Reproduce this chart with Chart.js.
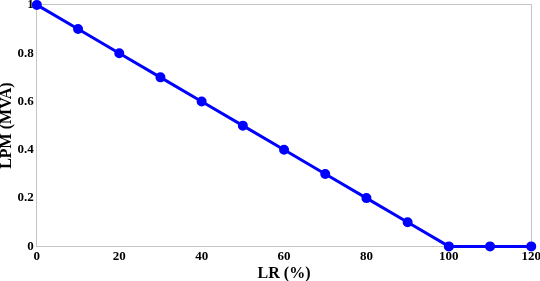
<!DOCTYPE html>
<html><head><meta charset="utf-8">
<script src="https://cdn.jsdelivr.net/npm/chart.js@4"></script>
<style>html,body{margin:0;padding:0;background:#fff;overflow:hidden}#c{display:block}</style>
</head><body>
<div style="width:545px;height:283px;margin-top:-2px"><canvas id="c"></canvas></div>
<script>
const lrValues = [0, 10, 20, 30, 40, 50, 60, 70, 80, 90, 100, 110, 120];
const lpmValues = [1, 0.9, 0.8, 0.7, 0.6, 0.5, 0.4, 0.3, 0.2, 0.1, 0, 0, 0];
const xTicks = [0, 20, 40, 60, 80, 100, 120];
const yTicks = [0, 0.2, 0.4, 0.6, 0.8, 1];
const xTitle = 'LR (%)';
const yTitle = 'LPM (MVA)';

const fam = '"Liberation Serif", "Times New Roman", serif';
const xFont = {family: fam, weight: 'bold', size: 13, lineHeight: 1.0};
const yFont = {family: fam, weight: 'bold', size: 13, lineHeight: 0.6};
const xTitleFont = {family: fam, weight: 'bold', size: 16, lineHeight: 0.85};
const yTitleFont = {family: fam, weight: 'bold', size: 16, lineHeight: 0.85};
const border = {display: true, color: '#c4c4c4', width: 1};

new Chart(document.getElementById('c'), {
  type: 'line',
  data: {
    datasets: [{
      data: lrValues.map((x, i) => ({x, y: lpmValues[i]})),
      borderColor: '#0000ff',
      backgroundColor: '#0000ff',
      borderWidth: 3,
      pointRadius: 3.5,
      pointHoverRadius: 3.5,
      tension: 0,
      clip: false
    }]
  },
  options: {
    responsive: true,
    maintainAspectRatio: false,
    animation: false,
    layout: {padding: {top: 1, right: 0, bottom: 0, left: 0}},
    plugins: {legend: {display: false}, tooltip: {enabled: false}},
    scales: {
      x: {
        type: 'linear', min: 0, max: 120,
        afterBuildTicks: s => { s.ticks = xTicks.map(v => ({value: v})); },
        ticks: {color: '#000', font: xFont, padding: 4, maxRotation: 0, autoSkip: false},
        grid: {display: false, drawTicks: false},
        border,
        title: {display: true, text: xTitle, color: '#000', font: xTitleFont, padding: {top: 0, bottom: 0}}
      },
      x2: {
        type: 'linear', position: 'top', min: 0, max: 120,
        ticks: {display: false},
        grid: {display: false, drawTicks: false},
        border
      },
      y: {
        min: 0, max: 1,
        afterBuildTicks: s => { s.ticks = yTicks.map(v => ({value: v})); },
        ticks: {color: '#000', font: yFont, padding: 3, autoSkip: false, callback: v => String(v)},
        grid: {display: false, drawTicks: false},
        border,
        title: {display: true, text: yTitle, color: '#000', font: yTitleFont, padding: {top: 0, bottom: 1}}
      },
      y2: {
        position: 'right', min: 0, max: 1,
        ticks: {display: false},
        grid: {display: false, drawTicks: false},
        border
      }
    }
  }
});
</script>
</body></html>
